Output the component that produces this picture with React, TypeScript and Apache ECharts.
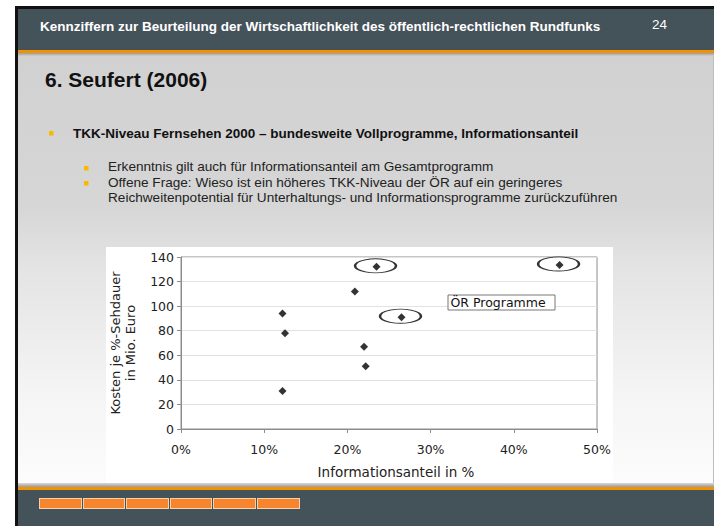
import React, { useEffect, useRef } from "react";
import * as echarts from "echarts";

// Private programmes (Informationsanteil in %, Kosten je %-Sehdauer in Mio. Euro)
const privX = [12.2, 12.2, 12.5, 20.9, 22.0, 22.2];
const privY = [31, 94, 78, 112, 67, 51];
// ÖR programmes (circled)
const oerX = [23.5, 26.5, 45.5];
const oerY = [132, 91, 133.5];

const headerText =
  "Kennziffern zur Beurteilung der Wirtschaftlichkeit des öffentlich-rechtlichen Rundfunks";
const pageNo = "24";
const titleText = "6. Seufert (2006)";
const bullet1 =
  "TKK-Niveau Fernsehen 2000 – bundesweite Vollprogramme, Informationsanteil";
const subLines = [
  "Erkenntnis gilt auch für Informationsanteil am Gesamtprogramm",
  "Offene Frage: Wieso ist ein höheres TKK-Niveau der ÖR auf ein geringeres",
  "Reichweitenpotential für Unterhaltungs- und Informationsprogramme zurückzuführen",
];
const legendText = "ÖR Programme";
const xName = "Informationsanteil in %";
const yName = "Kosten je %-Sehdauer\nin Mio. Euro";

const SANS = "'Liberation Sans', Arial, sans-serif";
const CHART_FONT = "'DejaVu Sans', sans-serif";

export default function App() {
  const ref = useRef<HTMLDivElement>(null);

  useEffect(() => {
    const chart = echarts.init(ref.current!, null, { renderer: "svg" });
    const allData = privX
      .map((x, i) => [x, privY[i]])
      .concat(oerX.map((x, i) => [x, oerY[i]]));
    const oerData = oerX.map((x, i) => [x, oerY[i]]);

    const textEl = (
      text: string,
      x: number,
      y: number,
      font: string,
      fill: string
    ) => ({
      type: "text",
      x,
      y,
      z: 100,
      silent: true,
      style: { text, font, fill, textAlign: "left", verticalAlign: "middle" },
    });

    chart.setOption({
      animation: false,
      backgroundColor: "transparent",
      grid: {
        left: 181,
        top: 257,
        width: 416,
        height: 172,
        show: true,
        borderColor: "#8c8c8c",
        borderWidth: 1,
        backgroundColor: "transparent",
      },
      xAxis: {
        type: "value",
        min: 0,
        max: 50,
        interval: 10,
        axisLabel: {
          formatter: "{value}%",
          fontFamily: CHART_FONT,
          fontSize: 12.5,
          color: "#222",
          margin: 14,
        },
        axisLine: { show: true, lineStyle: { color: "#8c8c8c" } },
        axisTick: { show: true, length: 4, lineStyle: { color: "#8c8c8c" } },
        splitLine: { show: false },
        name: xName,
        nameLocation: "middle",
        nameGap: 36,
        nameTextStyle: {
          fontFamily: CHART_FONT,
          fontSize: 13.5,
          color: "#222",
          padding: [0, 0, 0, 14],
        },
      },
      yAxis: {
        type: "value",
        min: 0,
        max: 140,
        interval: 20,
        axisLabel: {
          fontFamily: CHART_FONT,
          fontSize: 12.5,
          color: "#222",
          margin: 7,
        },
        axisLine: { show: true, lineStyle: { color: "#8c8c8c" } },
        axisTick: { show: true, length: 4, lineStyle: { color: "#8c8c8c" } },
        splitLine: { show: true, lineStyle: { color: "#e2e2e2" } },
        name: yName,
        nameLocation: "middle",
        nameGap: 43,
        nameTextStyle: {
          fontFamily: CHART_FONT,
          fontSize: 13,
          color: "#222",
          lineHeight: 15,
        },
      },
      series: [
        {
          type: "scatter",
          data: allData,
          symbol: "diamond",
          symbolSize: 8,
          itemStyle: { color: "#000" },
          silent: true,
          z: 3,
        },
        {
          type: "scatter",
          data: oerData,
          symbol: "circle",
          symbolSize: [41, 14],
          symbolOffset: [-1, -1],
          itemStyle: {
            color: "rgba(0,0,0,0)",
            borderColor: "#000",
            borderWidth: 1.5,
          },
          silent: true,
          z: 4,
        },
      ],
      graphic: [
        textEl(headerText, 40, 26, `bold 13.5px ${SANS}`, "#ffffff"),
        textEl(pageNo, 652, 24.5, `13.5px ${SANS}`, "#ffffff"),
        textEl(titleText, 45, 79, `bold 21px ${SANS}`, "#111111"),
        {
          type: "rect",
          z: 100,
          silent: true,
          shape: { x: 49, y: 131, width: 4.5, height: 4.5 },
          style: { fill: "#f8b900" },
        },
        textEl(bullet1, 73, 133, `bold 13.5px ${SANS}`, "#111111"),
        {
          type: "rect",
          z: 100,
          silent: true,
          shape: { x: 84, y: 166, width: 4.5, height: 4.5 },
          style: { fill: "#f8b900" },
        },
        {
          type: "rect",
          z: 100,
          silent: true,
          shape: { x: 84, y: 181, width: 4.5, height: 4.5 },
          style: { fill: "#f8b900" },
        },
        textEl(subLines[0], 108, 166.5, `13.6px ${SANS}`, "#222222"),
        textEl(subLines[1], 108, 182, `13.6px ${SANS}`, "#222222"),
        textEl(subLines[2], 108, 197.5, `13.6px ${SANS}`, "#222222"),
        {
          type: "rect",
          z: 100,
          silent: true,
          shape: { x: 448, y: 295, width: 107, height: 15 },
          style: { fill: "#ffffff", stroke: "#777777", lineWidth: 1 },
        },
        textEl(legendText, 450.5, 302.5, `12.5px ${CHART_FONT}`, "#111111"),
      ],
    });
    return () => chart.dispose();
  }, []);

  const abs = (
    left: number,
    top: number,
    width: number,
    height: number,
    background: string,
    extra: React.CSSProperties = {}
  ): React.CSSProperties => ({
    position: "absolute",
    left,
    top,
    width,
    height,
    background,
    ...extra,
  });

  const boxes = [0, 1, 2, 3, 4, 5];

  return (
    <div
      style={{
        position: "absolute",
        left: 0,
        top: 0,
        width: 714,
        height: 526,
        overflow: "hidden",
        background: "#ffffff",
      }}
    >
      <div style={abs(15, 6, 699, 520, "#111111")} />
      <div style={abs(18, 9, 696, 41, "#44525a")} />
      <div style={abs(18, 50, 696, 3, "#f39200")} />
      <div style={abs(18, 53, 696, 3, "linear-gradient(#9c9c9c, #cfcfcf)")} />
      <div
        style={abs(
          18,
          56,
          696,
          427,
          "linear-gradient(#d1d1d1 0%, #d6d6d6 35%, #e4e4e4 50%, #f6f5f6 80%, #fdfcfd 100%)"
        )}
      />
      <div style={abs(713, 56, 1, 427, "#bdbdbd")} />
      <div style={abs(106, 247, 507, 236, "#ffffff")} />
      <div style={abs(18, 483, 696, 4, "linear-gradient(#d9d9d9, #9a9a9a)")} />
      <div style={abs(18, 487, 696, 3, "#f39200")} />
      <div style={abs(18, 490, 696, 36, "#44525a")} />
      {boxes.map((i) => (
        <div
          key={i}
          style={abs(39 + i * 43.6, 498, 42.5, 10.5, "#f6852e", {
            boxSizing: "border-box",
            border: "1px solid #fbd0ab",
          })}
        />
      ))}
      <div
        ref={ref}
        style={{ position: "absolute", left: 0, top: 0, width: 714, height: 526 }}
      />
    </div>
  );
}
